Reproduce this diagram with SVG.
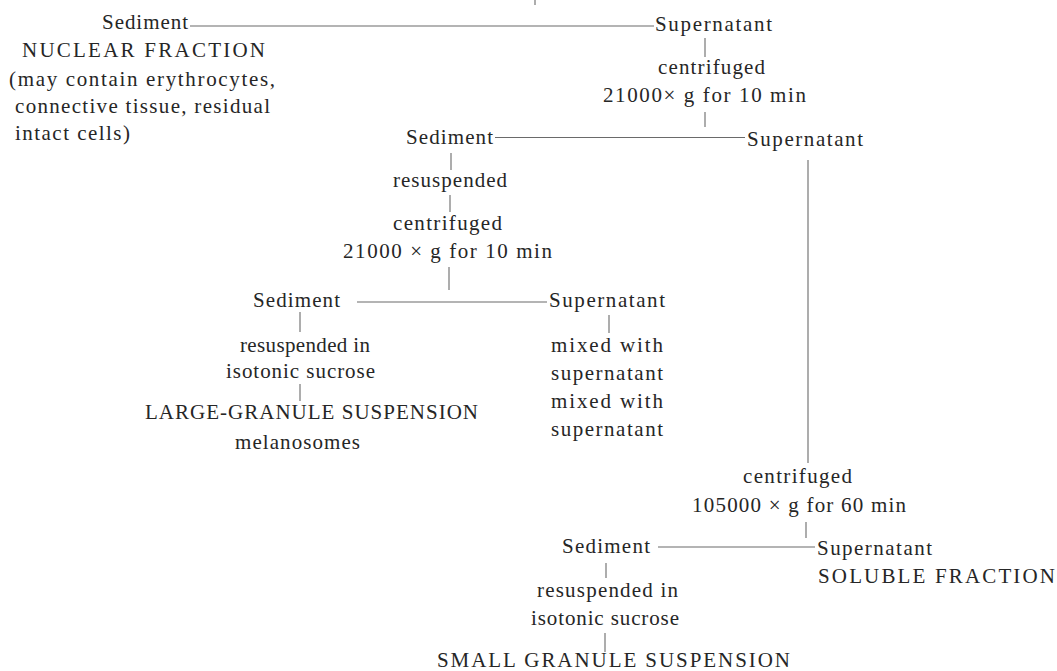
<svg xmlns="http://www.w3.org/2000/svg" width="1057" height="671" viewBox="0 0 1057 671">
<style>
text{font-family:"Liberation Serif","Times New Roman",serif;font-size:21px;fill:#262626}
.c{stroke:#6a6a6a;stroke-width:1.1;fill:none}
</style>
<rect width="1057" height="671" fill="#fff"/>
<g id="connectors">
<line class="c" x1="535" y1="0" x2="535" y2="5"/>
<line class="c" x1="190" y1="26" x2="654" y2="26"/>
<line class="c" x1="705" y1="38" x2="705" y2="57"/>
<line class="c" x1="705" y1="112" x2="705" y2="127"/>
<line class="c" x1="495" y1="137.5" x2="745" y2="137.5"/>
<line class="c" x1="451" y1="153" x2="451" y2="170"/>
<line class="c" x1="808" y1="160" x2="808" y2="463"/>
<line class="c" x1="450" y1="195" x2="450" y2="212"/>
<line class="c" x1="449" y1="267" x2="449" y2="290"/>
<line class="c" x1="357" y1="302" x2="547" y2="302"/>
<line class="c" x1="300" y1="312" x2="300" y2="332"/>
<line class="c" x1="300" y1="384" x2="300" y2="401"/>
<line class="c" x1="609" y1="315" x2="609" y2="333"/>
<line class="c" x1="806" y1="522" x2="806" y2="538"/>
<line class="c" x1="658" y1="547" x2="815" y2="547"/>
<line class="c" x1="606" y1="563" x2="606" y2="578"/>
<line class="c" x1="605" y1="633" x2="605" y2="652"/>
</g>
<g id="sediment1">
<text x="102" y="29" textLength="86" lengthAdjust="spacing">Sediment</text>
<text x="22" y="57" textLength="243" lengthAdjust="spacing">NUCLEAR FRACTION</text>
<text x="9" y="86" textLength="266" lengthAdjust="spacing">(may contain erythrocytes,</text>
<text x="15" y="113" textLength="255" lengthAdjust="spacing">connective tissue, residual</text>
<text x="15" y="140" textLength="115" lengthAdjust="spacing">intact cells)</text>
</g>
<g id="supernatant1">
<text x="655" y="31" textLength="117" lengthAdjust="spacing">Supernatant</text>
<text x="658" y="74" textLength="107" lengthAdjust="spacing">centrifuged</text>
<text x="603" y="102" textLength="203" lengthAdjust="spacing">21000× g for 10 min</text>
</g>
<g id="sediment2">
<text x="406" y="144" textLength="87" lengthAdjust="spacing">Sediment</text>
<text x="393" y="187" textLength="114" lengthAdjust="spacing">resuspended</text>
<text x="393" y="230" textLength="109" lengthAdjust="spacing">centrifuged</text>
<text x="343" y="258" textLength="209" lengthAdjust="spacing">21000 × g for 10 min</text>
</g>
<g id="supernatant2">
<text x="747" y="146" textLength="116" lengthAdjust="spacing">Supernatant</text>
</g>
<g id="sediment3">
<text x="253" y="307" textLength="87" lengthAdjust="spacing">Sediment</text>
<text x="240" y="352" textLength="130" lengthAdjust="spacing">resuspended in</text>
<text x="226" y="378" textLength="149" lengthAdjust="spacing">isotonic sucrose</text>
<text x="145" y="419" textLength="333" lengthAdjust="spacing">LARGE-GRANULE SUSPENSION</text>
<text x="235" y="449" textLength="125" lengthAdjust="spacing">melanosomes</text>
</g>
<g id="supernatant3">
<text x="549" y="307" textLength="116" lengthAdjust="spacing">Supernatant</text>
<text x="551" y="352" textLength="112" lengthAdjust="spacing">mixed with</text>
<text x="551" y="380" textLength="112" lengthAdjust="spacing">supernatant</text>
<text x="551" y="408" textLength="112" lengthAdjust="spacing">mixed with</text>
<text x="551" y="436" textLength="112" lengthAdjust="spacing">supernatant</text>
</g>
<g id="centrifuge3">
<text x="743" y="483" textLength="109" lengthAdjust="spacing">centrifuged</text>
<text x="692" y="512" textLength="214" lengthAdjust="spacing">105000 × g for 60 min</text>
</g>
<g id="sediment4">
<text x="562" y="553" textLength="88" lengthAdjust="spacing">Sediment</text>
<text x="537" y="597" textLength="141" lengthAdjust="spacing">resuspended in</text>
<text x="531" y="625" textLength="148" lengthAdjust="spacing">isotonic sucrose</text>
<text x="437" y="667" textLength="353" lengthAdjust="spacing">SMALL GRANULE SUSPENSION</text>
</g>
<g id="supernatant4">
<text x="817" y="555" textLength="115" lengthAdjust="spacing">Supernatant</text>
<text x="818" y="583" textLength="237" lengthAdjust="spacing">SOLUBLE FRACTION</text>
</g>
</svg>
